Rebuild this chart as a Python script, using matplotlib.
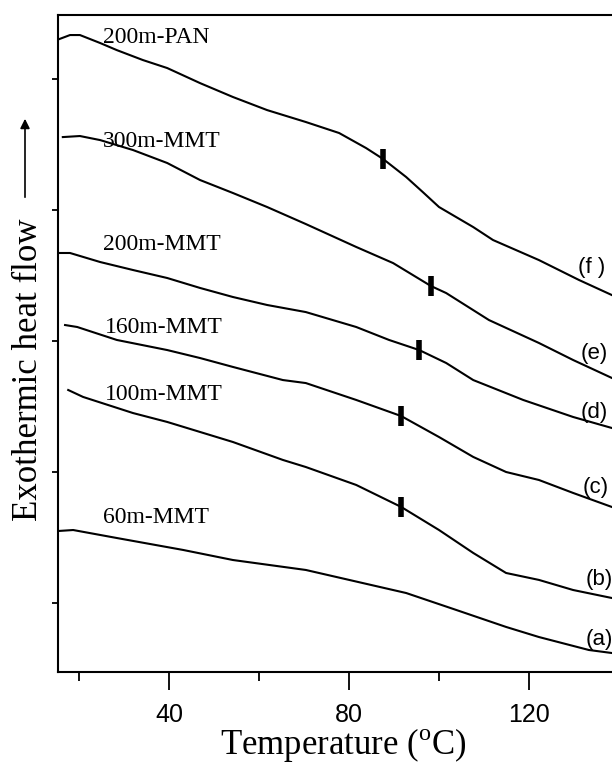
import matplotlib
matplotlib.use("Agg")
import matplotlib.pyplot as plt
from matplotlib.ticker import MultipleLocator, NullFormatter

plt.rcParams["mathtext.fontset"] = "custom"
plt.rcParams["mathtext.rm"] = "Liberation Serif"

SERIF = "Liberation Serif"
SANS = "Liberation Sans"

# DSC traces, temperature (C) vs. heat flow (arbitrary units)
t_f = [15.6, 18.0, 20.2, 24.7, 28.4, 34.2, 39.6, 46.9, 54.2, 61.8, 70.4, 77.8,
       83.8, 87.6, 92.7, 96.4, 100.0, 107.6, 112.0, 122.2, 131.1, 138.4]
v_f = [5.305, 5.336, 5.336, 5.275, 5.221, 5.145, 5.084, 4.969, 4.863, 4.763, 4.672, 4.588,
       4.473, 4.389, 4.252, 4.137, 4.023, 3.870, 3.771, 3.618, 3.466, 3.351]

t_e = [16.4, 20.2, 24.7, 32.0, 39.6, 46.9, 54.2, 61.8, 70.4, 81.6, 89.8, 98.2,
       101.6, 111.1, 122.2, 129.8, 138.4]
v_e = [4.557, 4.565, 4.534, 4.458, 4.359, 4.229, 4.130, 4.023, 3.893, 3.718, 3.595, 3.420,
       3.366, 3.160, 2.985, 2.855, 2.718]

t_d = [15.6, 18.0, 24.7, 32.0, 39.6, 46.9, 54.2, 61.8, 70.4, 81.6, 88.9, 95.6,
       101.6, 107.6, 118.7, 129.8, 138.4]
v_d = [3.672, 3.672, 3.603, 3.542, 3.481, 3.405, 3.336, 3.275, 3.221, 3.107, 3.008, 2.931,
       2.832, 2.702, 2.550, 2.420, 2.336]

t_c = [16.9, 19.6, 28.4, 39.6, 46.9, 54.2, 65.3, 70.4, 81.6, 91.6, 100.0, 107.6,
       114.9, 122.2, 129.8, 138.4]
v_c = [3.122, 3.107, 3.008, 2.931, 2.870, 2.802, 2.702, 2.679, 2.550, 2.427, 2.267, 2.115,
       2.000, 1.939, 1.840, 1.733]

t_b = [17.6, 20.9, 32.0, 39.6, 54.2, 65.3, 70.4, 81.6, 91.6, 100.0, 107.6, 114.9,
       122.2, 129.8, 138.4]
v_b = [2.626, 2.573, 2.450, 2.382, 2.229, 2.092, 2.038, 1.901, 1.733, 1.557, 1.382, 1.229,
       1.176, 1.099, 1.038]

t_a = [15.6, 18.7, 28.4, 43.1, 54.2, 70.4, 92.7, 103.8, 114.9, 122.2, 133.3, 138.4]
v_a = [1.550, 1.557, 1.496, 1.405, 1.328, 1.252, 1.076, 0.947, 0.817, 0.740, 0.641, 0.618]

curves = [(t_a, v_a), (t_b, v_b), (t_c, v_c), (t_d, v_d), (t_e, v_e), (t_f, v_f)]

# glass transition marks (f, e, d, c, b)
tg_t = [87.6, 98.2, 95.6, 91.6, 91.6]
tg_v = [4.389, 3.420, 2.931, 2.427, 1.733]

# sample names
names = ["200m-PAN", "300m-MMT", "200m-MMT", "160m-MMT", "100m-MMT", "60m-MMT"]
name_t = [25.3, 25.3, 25.3, 25.8, 25.8, 25.3]
name_v = [5.275, 4.481, 3.695, 3.061, 2.550, 1.611]

# curve letters
letters = ["(f )", "(e)", "(d)", "(c)", "(b)", "(a)"]
letter_t = [134.0, 134.4, 134.4, 134.9, 135.6, 135.6]
letter_v = [3.565, 2.908, 2.458, 1.885, 1.176, 0.718]

fig = plt.figure(figsize=(6.12, 7.65), dpi=100)
ax = fig.add_axes([58 / 612, 1 - 672 / 765, (612 - 58) / 612, (672 - 15) / 765])

for t, v in curves:
    ax.plot(t, v, color="black", lw=1.5, solid_joinstyle="round")

ax.plot(tg_t, tg_v, ls="none", marker="|", markersize=15, markeredgewidth=4, color="black")

for s, x, y in zip(names, name_t, name_v):
    ax.text(x, y, s, family=SERIF, fontsize=17, ha="left", va="baseline")

for s, x, y in zip(letters, letter_t, letter_v):
    ax.text(x, y, s, family=SANS, fontsize=16, ha="center", va="center")

ax.set_xlim(15.33, 138.44)
ax.set_ylim(0.473, 5.489)

ax.xaxis.set_major_locator(MultipleLocator(40))
ax.xaxis.set_minor_locator(MultipleLocator(20))
ax.yaxis.set_major_locator(MultipleLocator(1))
ax.yaxis.set_major_formatter(NullFormatter())

ax.tick_params(axis="x", which="major", direction="out", length=13, width=1.3, pad=9,
               labelsize=18)
ax.tick_params(axis="x", which="minor", direction="out", length=6.5, width=1.3)
ax.tick_params(axis="y", which="major", direction="out", length=4, width=1.3)
for lab in ax.get_xticklabels():
    lab.set_family(SANS)

for side in ["left", "bottom", "top"]:
    ax.spines[side].set_linewidth(1.5)
ax.spines["right"].set_visible(False)

fig.text(343 / 612, 1 - 754 / 765, r"Temperature ($^{\mathrm{o}}$C)", family=SERIF,
         fontsize=25, ha="center", va="baseline")
fig.text(29 / 612, 1 - 370 / 765, "Exothermic heat flow", family=SERIF, fontsize=25,
         rotation=90, ha="center", va="center")
fig.patches.append(plt.matplotlib.patches.FancyArrowPatch(
    (25 / 612, 1 - 200 / 765), (25 / 612, 1 - 116 / 765), transform=fig.transFigure,
    arrowstyle="-|>", mutation_scale=14, lw=1.2, color="black"))

fig.savefig("out.png", dpi=100)
